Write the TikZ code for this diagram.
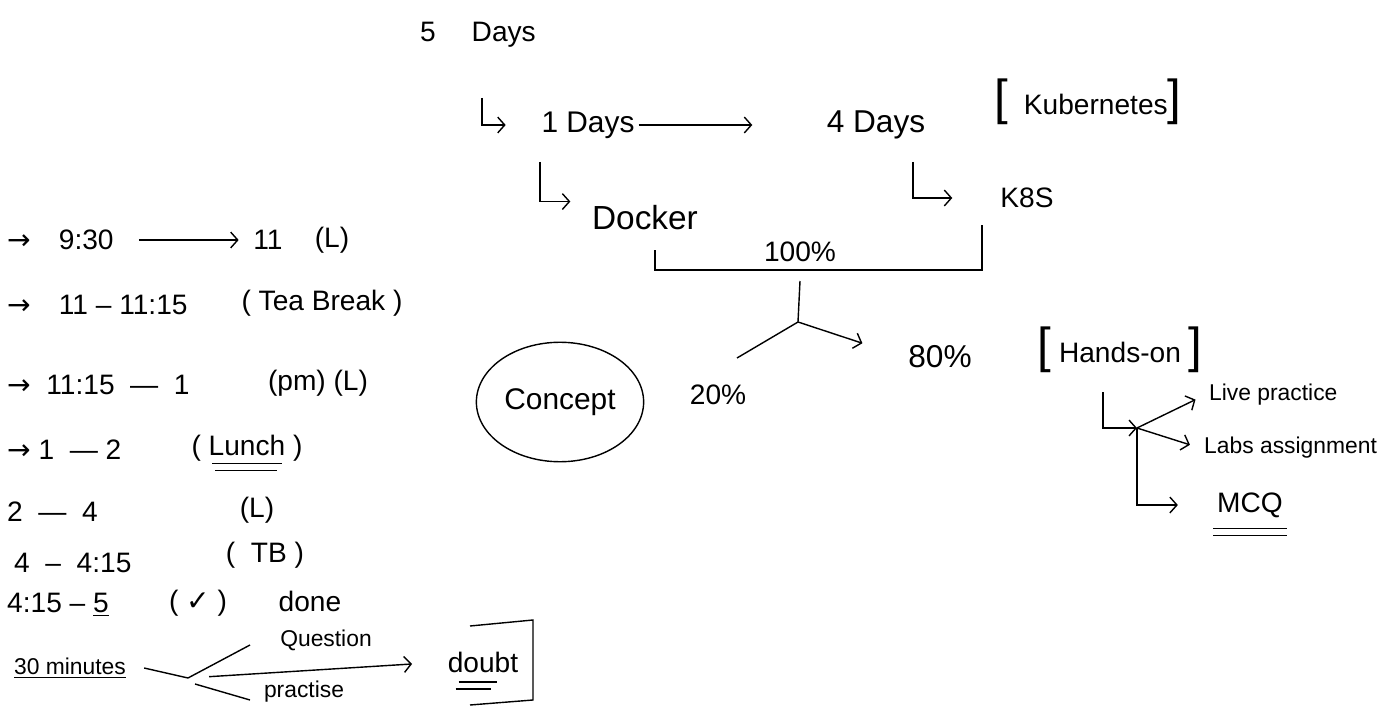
\documentclass[tikz,border=0pt]{standalone}
\usepackage{fontspec}
\setmainfont{Liberation Sans}
\newfontfamily\symfont{DejaVu Sans}
\usepackage{tikz}
\usetikzlibrary{arrows.meta}
\usetikzlibrary{calc}
\usetikzlibrary{positioning}
\usetikzlibrary{shapes}

\newcommand{\bigbr}[1]{{\fontsize{28}{30}\selectfont #1}}

\begin{document}
\begin{tikzpicture}[x=0.02cm,y=-0.02cm,line width=0.8pt,
    >={Straight Barb[length=4pt,width=9pt]},
    font=\fontsize{16}{19}\selectfont,
    every node/.style={inner sep=2pt},
    small/.style={font=\fontsize{13}{15}\selectfont},
    row/.style={anchor=west}]
  \useasboundingbox (0,0) rectangle (1397,713);

  % five days split
  \node (five) at (478,35) {5 \quad Days};
  \node[font=\fontsize{17}{20}\selectfont] (one) at (588,125) {1 Days};
  \node[font=\fontsize{18}{21}\selectfont] (four) at (876,125) {4 Days};
  \node (kube) at (1088,102) {\bigbr{[}\ \ Kubernetes\bigbr{]}};
  \node[font=\fontsize{19}{22}\selectfont] (docker) at (645,218) {Docker};
  \node (k8s) at (1027,198) {K8S};
  \coordinate (h1) at (482,98);
  \coordinate (h2) at (540,162);
  \coordinate (h3) at (913,162);
  \draw[->,shorten >=18pt] (h1) |- (one.west);
  \draw[->,shorten >=40pt] (one.east) -- (four.west);
  \draw[->] (h2) |- ([xshift=-10pt]docker.north west);
  \draw[->,shorten >=25pt] (h3) |- (k8s.west);

  % 100 percent
  \coordinate (bl) at (655,250);
  \coordinate (br) at (982,225);
  \draw (bl) |- (800,270) -| (br);
  \node (full) at (800,252) {100\%};
  \coordinate (stem) at (800,281);
  \coordinate (fork) at (798,322);
  \coordinate (lend) at (737,358);
  \draw (stem) -- (fork);
  \draw (fork) -- (lend);
  \node (p20) at (718,395) {20\%};
  \node[font=\fontsize{18}{21}\selectfont] (p80) at (940,357) {80\%};
  \draw[->,shorten >=25pt] (fork) -- (p80.west);
  \node[draw,ellipse,minimum width=92pt,minimum height=68pt,font=\fontsize{17}{20}\selectfont] (concept) at (560,402) {Concept};

  % hands-on
  \node (hands) at (1120,350) {\bigbr{[}\ Hands-on\ \bigbr{]}};
  \node[small,anchor=west] (live) at (1205,395) {Live practice};
  \node[small,anchor=west] (labs) at (1200,448) {Labs assignment};
  \node (mcq) at (1250,505) {MCQ};
  \coordinate (h4) at (1103,392);
  \coordinate (jn) at (1137,428);
  \draw[->] (h4) |- (jn);
  \draw[->,shorten >=6pt] (jn) -- (live.west);
  \draw[->,shorten >=6pt] (jn) -- (labs.west);
  \draw[->,shorten >=20pt] (jn) |- (mcq.west);
  \draw ([yshift=-4pt]mcq.south west) -- ([yshift=-4pt]mcq.south east);
  \draw ([yshift=-8pt]mcq.south west) -- ([yshift=-8pt]mcq.south east);

  % time table
  \node[row] (r1) at (3,240) {{\symfont →}\quad 9:30};
  \node (r1b) at (268,240) {11};
  \node (r1c) at (332,240) {(L)};
  \draw[->,shorten <=12pt,shorten >=6pt] (r1.east) -- (r1b.west);
  \node[row] (r2) at (3,305) {{\symfont →}\quad 11 -- 11:15};
  \node (r2b) at (322,303) {( Tea Break )};
  \node[row] (r3) at (3,385) {{\symfont →}\ \ 11:15 \ --- \ 1};
  \node (r3b) at (318,383) {(pm) (L)};
  \node[row] (r4) at (3,450) {{\symfont →}\ 1 \ --- 2};
  \node (r4b) at (247,448) {( Lunch )};
  \draw ([yshift=1pt]r4b.south west) ++(25,0) coordinate (u1) -- ($(u1)+(70,0)$);
  \draw ([yshift=-3pt]r4b.south west) ++(28,0) coordinate (u2) -- ($(u2)+(62,0)$);
  \node[row] (r5) at (3,512) {2 \ --- \ 4};
  \node (r5b) at (257,510) {(L)};
  \node[row] (r6) at (10,563) {4 \ -- \ 4:15};
  \node (r6b) at (265,555) {( \ TB )};
  \node[row] (r7) at (3,605) {4:15 -- \underline{5}};
  \node (r7b) at (198,603) {( {\symfont ✓} )};
  \node (r7c) at (310,601) {done};

  % doubt session
  \node[small] (mins) at (70,668) {\underline{30 minutes}};
  \coordinate (fk) at (188,678);
  \node[small] (ques) at (326,640) {Question};
  \node[small] (prac) at (304,692) {practise};
  \node (doubt) at (483,662) {doubt};
  \draw ([xshift=8pt]mins.east) -- (fk);
  \draw (fk) -- (250,645);
  \draw (195,684) -- (250,700);
  \draw[->,shorten <=12pt,shorten >=18pt] (fk) -- (doubt.west);
  \draw ([yshift=-3pt]doubt.south west) ++(15,0) coordinate (d1) -- ($(d1)+(38,0)$);
  \draw ([yshift=-7pt]doubt.south west) ++(12,0) coordinate (d2) -- ($(d2)+(35,0)$);
  \coordinate (bt) at (470,626);
  \coordinate (bb) at (470,705);
  \draw (bt) -- (533,620) -- (533,700) -- (bb);
\end{tikzpicture}
\end{document}
